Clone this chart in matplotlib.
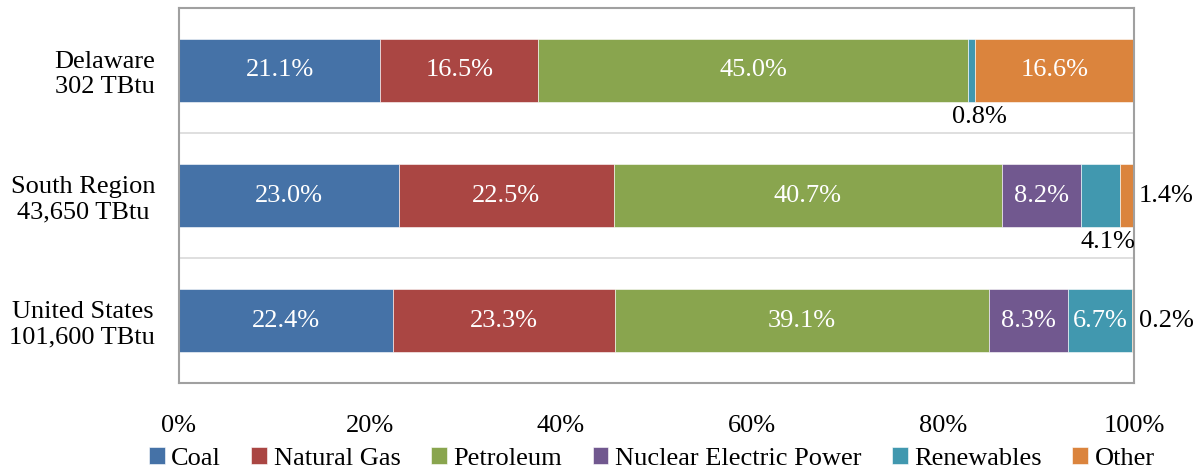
import matplotlib.pyplot as plt
import numpy as np

plt.rcParams['font.family'] = ['Liberation Serif', 'DejaVu Serif']

# rows from bottom to top
regions = ['United States\n101,600 TBtu', 'South Region\n43,650 TBtu', 'Delaware\n302 TBtu']
sources = ['Coal', 'Natural Gas', 'Petroleum', 'Nuclear Electric Power', 'Renewables', 'Other']
colors = ['#4572A7', '#AA4643', '#89A54E', '#71588F', '#4198AF', '#DB843D']

coal = [22.4, 23.0, 21.1]
natural_gas = [23.3, 22.5, 16.5]
petroleum = [39.1, 40.7, 45.0]
nuclear = [8.3, 8.2, 0.0]
renewables = [6.7, 4.1, 0.8]
other = [0.2, 1.4, 16.6]

shares = [coal, natural_gas, petroleum, nuclear, renewables, other]

FS = 19

fig, ax = plt.subplots(figsize=(11.98, 4.70), dpi=100)
fig.subplots_adjust(left=0.1494, right=0.9466, top=0.983, bottom=0.185)

y = np.arange(len(regions))
left = np.zeros(len(regions))
for name, vals, col in zip(sources, shares, colors):
    vals = np.array(vals)
    ax.barh(y, vals, left=left, height=0.51, color=col, label=name,
            edgecolor='white', linewidth=0.4)
    for i, v in enumerate(vals):
        if v <= 0:
            continue
        c = left[i] + v / 2
        txt = '%.1f%%' % v
        if v >= 5:
            ax.text(c, y[i], txt, ha='center', va='center', color='white', fontsize=FS)
        elif name == 'Other':
            ax.text(100.5, y[i], txt, ha='left', va='center', color='black',
                    fontsize=FS, clip_on=False)
        else:
            ax.text(c + 0.8, y[i] - 0.37, txt, ha='center', va='center',
                    color='black', fontsize=FS)
    left += vals

ax.set_xlim(0, 100)
ax.set_ylim(-0.5, 2.5)
ax.set_xticks(np.arange(0, 101, 20))
ax.set_xticklabels(['%d%%' % t for t in range(0, 101, 20)])
ax.set_yticks(y)
ax.set_yticklabels(regions, multialignment='center')
ax.tick_params(axis='both', length=0, labelsize=FS)
ax.tick_params(axis='x', pad=23)
ax.tick_params(axis='y', pad=17)

for yy in [0.5, 1.5]:
    ax.axhline(yy, color='#d9d9d9', linewidth=1.2)

for sp in ax.spines.values():
    sp.set_color('#a0a0a0')
    sp.set_linewidth(1.5)

ax.legend(loc='lower center', bbox_to_anchor=(0.495, -0.26), ncol=6,
          frameon=False, fontsize=FS, handlelength=0.6, handleheight=0.6,
          handletextpad=0.25, columnspacing=1.15, borderaxespad=0)

plt.savefig('out.png', dpi=100)
